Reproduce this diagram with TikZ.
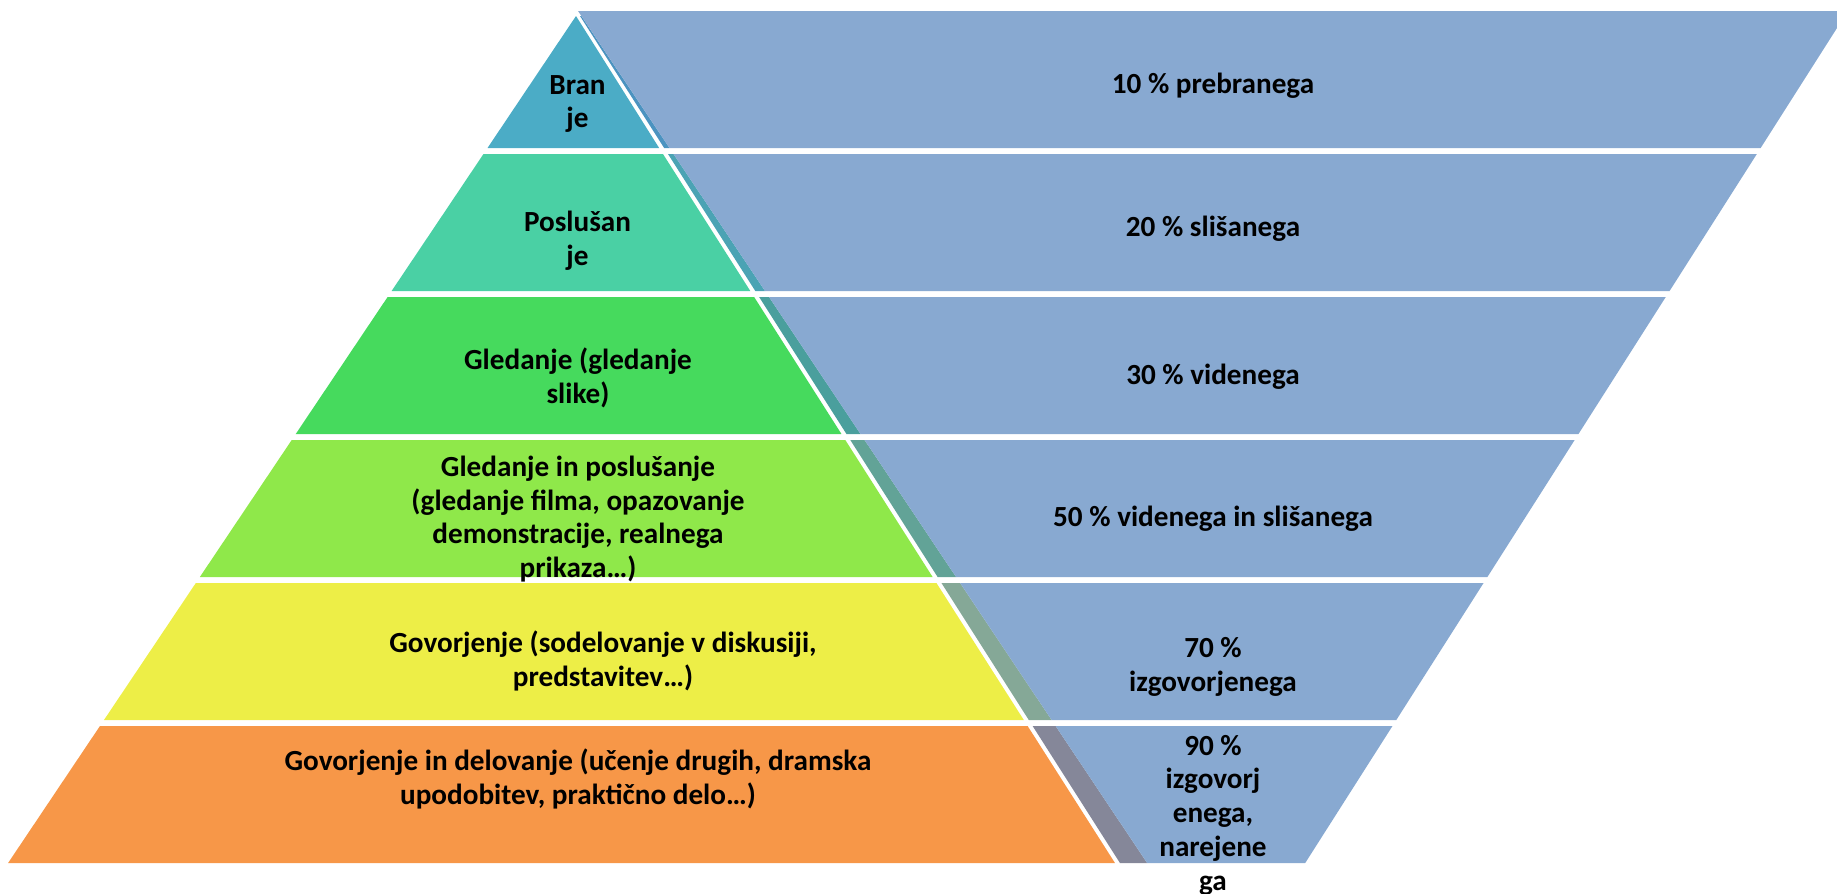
\documentclass[tikz,border=0pt]{standalone}
\usepackage{fontspec}
\setmainfont{Carlito}
\definecolor{bandA}{HTML}{4BACC6}
\definecolor{bandB}{HTML}{4AD0A4}
\definecolor{bandC}{HTML}{46DA5D}
\definecolor{bandD}{HTML}{8FE84A}
\definecolor{bandE}{HTML}{EDEE47}
\definecolor{bandF}{HTML}{F79748}
\definecolor{stripA}{HTML}{4B93C0}
\definecolor{stripB}{HTML}{4BA3B4}
\definecolor{stripC}{HTML}{4A9F9D}
\definecolor{stripD}{HTML}{62A397}
\definecolor{stripE}{HTML}{85A897}
\definecolor{stripF}{HTML}{858799}
\definecolor{retain}{HTML}{88A9D1}
\begin{document}
\begin{tikzpicture}[x=0.01cm,y=-0.01cm,
  declare function={
    xl(\t)=576-0.6705*(\t-16);
    xr(\t)=575+0.6375*(\t-16);
    xb(\t)=578+0.668*(\t-11);
    xbr(\t)=1760-0.637*(\t-149);
  },
  lbl/.style={font=\bfseries\fontsize{8.3}{9.6}\selectfont, align=center, inner sep=0pt, text=black}]
\useasboundingbox (0,0) rectangle (1837,893);

% top level: triangle, its shade strip and the first retention band
\fill[bandA] (576,16) -- ({xr(148)},148) -- ({xl(148)},148) -- cycle;
\fill[stripA] ({xr(16)+5},16) -- ({xb(16)},16) -- ({xb(148)},148) -- ({xr(148)+5},148) -- cycle;
\fill[retain] (578,11) -- (1837,11) -- (1837,28) -- ({xbr(148)},148) -- ({xb(148)},148) -- cycle;

% lower levels: trapezoid, shade strip, retention band
\foreach \T/\fc/\sc in {154/bandB/stripB, 297/bandC/stripC, 440/bandD/stripD, 583/bandE/stripE, 726/bandF/stripF}{
  \pgfmathsetmacro\B{\T+137}
  \fill[\fc] ({xl(\T)},\T) -- ({xr(\T)},\T) -- ({xr(\B)},\B) -- ({xl(\B)},\B) -- cycle;
  \fill[\sc] ({xr(\T)+5},\T) -- ({xb(\T)},\T) -- ({xb(\B)},\B) -- ({xr(\B)+5},\B) -- cycle;
  \fill[retain] ({xb(\T)},\T) -- ({xbr(\T)},\T) -- ({xbr(\B)},\B) -- ({xb(\B)},\B) -- cycle;
}

% activity labels
\node[lbl] (a1) at (577.5,104) {Bran\\je};
\node[lbl] (a2) at (577.5,241) {Poslušan\\je};
\node[lbl] (a3) at (578,378) {Gledanje (gledanje\\slike)};
\node[lbl] (a4) at (578,519) {Gledanje in poslušanje\\(gledanje filma, opazovanje\\demonstracije, realnega\\prikaza…)};
\node[lbl] (a5) at (603,661) {Govorjenje (sodelovanje v diskusiji,\\predstavitev…)};
\node[lbl] (a6) at (578,779) {Govorjenje in delovanje (učenje drugih, dramska\\upodobitev, praktično delo…)};

% retention labels
\node[lbl] (r1) at (1213,86) {10 \% prebranega};
\node[lbl] (r2) at (1213,229) {20 \% slišanega};
\node[lbl] (r3) at (1213,377) {30 \% videnega};
\node[lbl] (r4) at (1213,519) {50 \% videnega in slišanega};
\node[lbl] (r5) at (1213,667) {70 \%\\izgovorjenega};
\node[lbl] (r6) at (1213,815) {90 \%\\izgovorj\\enega,\\narejene\\ga};
\end{tikzpicture}
\end{document}
